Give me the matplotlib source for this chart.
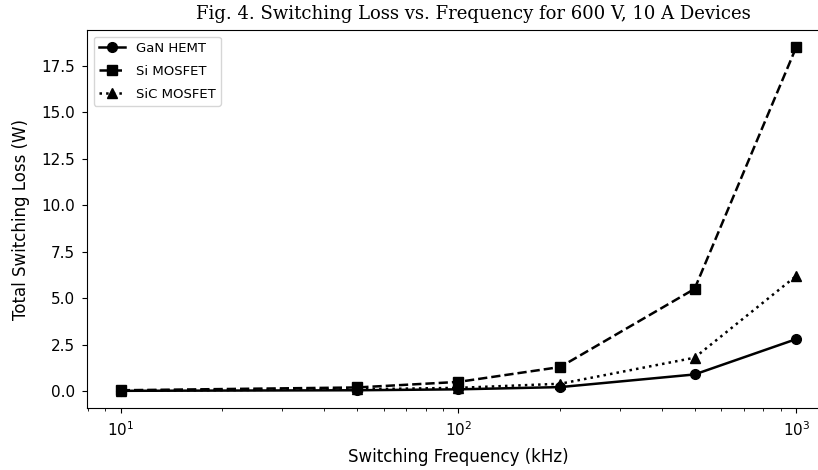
import numpy as np
import matplotlib
matplotlib.use("Agg")
import matplotlib.pyplot as plt

# switching frequency (kHz) and total switching loss (W)
freq_khz = [10, 50, 100, 200, 500, 1000]
gan_hemt = [0.02, 0.05, 0.1, 0.22, 0.9, 2.8]
si_mosfet = [0.05, 0.2, 0.5, 1.3, 5.5, 18.5]
sic_mosfet = [0.03, 0.1, 0.18, 0.4, 1.8, 6.2]

fig = plt.figure(figsize=(8.18, 4.70), dpi=100)
ax = fig.add_axes([87 / 818, 1 - 408 / 470, 743 / 818, 378 / 470])

ax.plot(freq_khz, gan_hemt, color="black", linestyle="-", marker="o",
        linewidth=1.8, markersize=7, label="GaN HEMT")
ax.plot(freq_khz, si_mosfet, color="black", linestyle="--", marker="s",
        linewidth=1.8, markersize=7, label="Si MOSFET")
ax.plot(freq_khz, sic_mosfet, color="black", linestyle=":", marker="^",
        linewidth=1.8, markersize=7, label="SiC MOSFET")

ax.set_xscale("log")
ax.set_xlabel("Switching Frequency (kHz)", fontsize=12, labelpad=7)
ax.set_ylabel("Total Switching Loss (W)", fontsize=12, labelpad=8)
ax.tick_params(labelsize=11, pad=5)
ax.legend(loc="upper left", fontsize=9.5, handlelength=2, labelspacing=0.75)
fig.text(473 / 818, 1 - 14 / 470, "Fig. 4. Switching Loss vs. Frequency for 600 V, 10 A Devices",
         ha="center", va="center", family="DejaVu Serif", fontsize=13)

fig.savefig("out.png", dpi=100)
